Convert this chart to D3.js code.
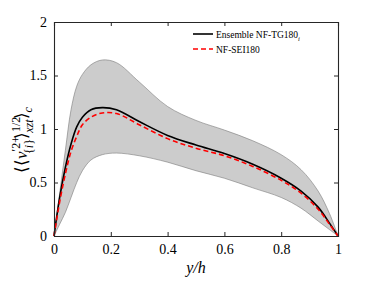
<!DOCTYPE html>
<html>
<head>
<meta charset="utf-8">
<script src="https://cdn.jsdelivr.net/npm/d3@7"></script>
<style>
  body { margin: 0; background: #fff; }
</style>
</head>
<body>
<svg id="chart" width="374" height="281" font-family="Liberation Serif, Times New Roman, serif"></svg>
<script>
// values
const yPos = [0, 0.02, 0.04, 0.06, 0.08, 0.10, 0.13, 0.17, 0.22, 0.30, 0.40, 0.50, 0.60, 0.70, 0.80, 0.87, 0.93, 0.97, 1];

const upper    = [0, 0.40, 0.80, 1.18, 1.40, 1.51, 1.60, 1.645, 1.62, 1.44, 1.21, 1.08, 0.99, 0.89, 0.76, 0.62, 0.42, 0.21, 0];
const lower    = [0, 0.11, 0.22, 0.36, 0.50, 0.61, 0.71, 0.76, 0.775, 0.75, 0.69, 0.61, 0.54, 0.45, 0.36, 0.26, 0.14, 0.06, 0];
const ensemble = [0, 0.36, 0.64, 0.86, 1.02, 1.11, 1.18, 1.20, 1.18, 1.07, 0.94, 0.85, 0.77, 0.67, 0.54, 0.42, 0.27, 0.12, 0];
const sei      = [0, 0.32, 0.58, 0.79, 0.93, 1.04, 1.11, 1.15, 1.145, 1.04, 0.91, 0.82, 0.75, 0.65, 0.52, 0.40, 0.25, 0.11, 0];

const xTicks = [0, 0.2, 0.4, 0.6, 0.8, 1];
const yTicks = [0, 0.5, 1, 1.5, 2];

const svg = d3.select("#chart");
const mLeft = 54, mRight = 338, mTop = 22, mBottom = 236;

const x = d3.scaleLinear().domain([0, 1]).range([mLeft, mRight]);
const y = d3.scaleLinear().domain([0, 2]).range([mBottom, mTop]);

const rows = yPos.map((p, i) => ({ p, up: upper[i], lo: lower[i], e: ensemble[i], s: sei[i] }));
const curve = d3.curveCatmullRom.alpha(0.5);

// shaded band
svg.append("path")
  .datum(rows)
  .attr("fill", "#cccccc")
  .attr("d", d3.area().x(d => x(d.p)).y0(d => y(d.lo)).y1(d => y(d.up)).curve(curve));

["up", "lo"].forEach(k => {
  svg.append("path")
    .datum(rows)
    .attr("fill", "none")
    .attr("stroke", "#7a7a7a")
    .attr("stroke-width", 0.6)
    .attr("d", d3.line().x(d => x(d.p)).y(d => y(d[k])).curve(curve));
});

// lines
svg.append("path")
  .datum(rows)
  .attr("fill", "none")
  .attr("stroke", "#000")
  .attr("stroke-width", 1.6)
  .attr("d", d3.line().x(d => x(d.p)).y(d => y(d.e)).curve(curve));

svg.append("path")
  .datum(rows)
  .attr("fill", "none")
  .attr("stroke", "#ff0000")
  .attr("stroke-width", 1.6)
  .attr("stroke-dasharray", "5,3")
  .attr("d", d3.line().x(d => x(d.p)).y(d => y(d.s)).curve(curve));

// axes, ticks inside, box
const axColor = "#262626";
const gx = svg.append("g").attr("transform", `translate(0,${mBottom})`)
  .call(d3.axisBottom(x).tickValues(xTicks).tickSize(-4).tickPadding(8).tickFormat(d3.format("")));
const gxt = svg.append("g").attr("transform", `translate(0,${mTop})`)
  .call(d3.axisTop(x).tickValues(xTicks).tickSize(-4).tickFormat(""));
const gy = svg.append("g").attr("transform", `translate(${mLeft},0)`)
  .call(d3.axisLeft(y).tickValues(yTicks).tickSize(-4).tickPadding(7).tickFormat(d3.format("")));
const gyr = svg.append("g").attr("transform", `translate(${mRight},0)`)
  .call(d3.axisRight(y).tickValues(yTicks).tickSize(-4).tickFormat(""));

[gx, gxt, gy, gyr].forEach(g => {
  g.attr("font-family", "Liberation Serif, Times New Roman, serif").attr("font-size", 14);
  g.select(".domain").attr("stroke", axColor).attr("stroke-width", 1.1);
  g.selectAll(".tick line").attr("stroke", axColor);
  g.selectAll("text").attr("fill", "#000");
});

// x label
svg.append("text")
  .attr("x", (mLeft + mRight) / 2)
  .attr("y", 273)
  .attr("text-anchor", "middle")
  .attr("font-size", 16)
  .attr("font-style", "italic")
  .text("y/h");

// y label
const yl = svg.append("text")
  .attr("transform", `translate(27,140) rotate(-90)`)
  .attr("text-anchor", "middle")
  .attr("font-size", 17);
yl.append("tspan").text("⟨⟨");
yl.append("tspan").attr("font-style", "italic").text("v");
yl.append("tspan").attr("dy", -7).attr("font-size", 12).text("′2+");
yl.append("tspan").attr("dx", -18).attr("dy", 13).attr("font-size", 12).text("{");
yl.append("tspan").attr("font-size", 12).attr("font-style", "italic").text("i");
yl.append("tspan").attr("font-size", 12).text("}");
yl.append("tspan").attr("dy", -6).text("⟩");
yl.append("tspan").attr("dy", -7).attr("font-size", 12).text("1/2");
yl.append("tspan").attr("dx", -16).attr("dy", 13).attr("font-size", 12).attr("font-style", "italic").text("xzt");
yl.append("tspan").attr("dy", -6).text("⟩");
yl.append("tspan").attr("dy", 5).attr("font-size", 12).attr("font-style", "italic").text("c");

// legend
const legend = [
  { label: "Ensemble NF-TG180", sub: "i", color: "#000", dash: null },
  { label: "NF-SEI180", sub: null, color: "#ff0000", dash: "5,3" }
];
legend.forEach((d, i) => {
  const ly = 34 + i * 15;
  svg.append("line")
    .attr("x1", 193).attr("x2", 213).attr("y1", ly).attr("y2", ly)
    .attr("stroke", d.color).attr("stroke-width", 1.6)
    .attr("stroke-dasharray", d.dash);
  const t = svg.append("text").attr("x", 216).attr("y", ly + 3.5).attr("font-size", 9.5).text(d.label);
  if (d.sub) t.append("tspan").attr("dy", 3).attr("font-size", 6.5).attr("font-style", "italic").text(d.sub);
});
</script>
</body>
</html>
